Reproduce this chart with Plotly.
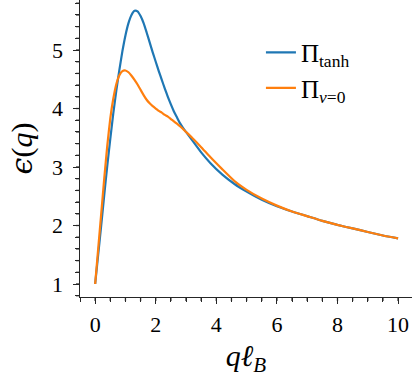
import plotly.graph_objects as go

# Data
q_tanh = [0.0, 0.1, 0.2, 0.3, 0.4, 0.5, 0.6, 0.7, 0.8, 0.9, 1.0, 1.1, 1.2, 1.3, 1.4,
          1.5, 1.6, 1.7, 1.8, 1.9, 2.0, 2.1, 2.2, 2.3, 2.4, 2.5, 2.6, 2.7, 2.8, 2.9, 3.0,
          3.2, 3.5, 3.8, 4.2, 4.6, 5.0, 5.5, 6.0, 6.5, 7.0, 7.5, 8.0, 8.5, 9.0, 9.5, 10.0]
eps_tanh = [1.00, 1.50, 2.00, 2.52, 3.02, 3.48, 3.92, 4.31, 4.66, 4.98, 5.25, 5.46, 5.60, 5.67, 5.66,
            5.58, 5.46, 5.30, 5.13, 4.96, 4.80, 4.64, 4.49, 4.34, 4.20, 4.07, 3.95, 3.85, 3.75, 3.67, 3.60,
            3.46, 3.25, 3.07, 2.87, 2.71, 2.58, 2.44, 2.33, 2.24, 2.16, 2.08, 2.01, 1.95, 1.89, 1.83, 1.78]

q_nu0 = [0.0, 0.1, 0.2, 0.3, 0.4, 0.5, 0.6, 0.7, 0.8, 0.9, 1.0, 1.1, 1.2, 1.3, 1.4,
         1.5, 1.6, 1.7, 1.8, 1.9, 2.0, 2.1, 2.2, 2.3, 2.4, 2.5, 2.6, 2.7, 2.8, 2.9, 3.0,
         3.2, 3.5, 3.8, 4.2, 4.6, 5.0, 5.5, 6.0, 6.5, 7.0, 7.5, 8.0, 8.5, 9.0, 9.5, 10.0]
eps_nu0 = [1.00, 1.60, 2.20, 2.80, 3.36, 3.83, 4.17, 4.42, 4.57, 4.64, 4.65, 4.62, 4.56, 4.49, 4.41,
           4.32, 4.23, 4.15, 4.09, 4.04, 4.00, 3.96, 3.93, 3.89, 3.86, 3.82, 3.78, 3.74, 3.70, 3.65, 3.60,
           3.50, 3.34, 3.17, 2.96, 2.76, 2.61, 2.46, 2.34, 2.24, 2.16, 2.08, 2.01, 1.95, 1.89, 1.83, 1.78]

x_range = [-0.5, 10.46]
y_range = [0.778, 5.855]
x_major, x_minor = 2, 0.5
y_major, y_minor = 1, 0.2

FONT = "Liberation Serif"
EPS_FONT = "DejaVu Serif"
INK = "#262626"

W, H = 412, 382
M = dict(l=80, r=0, t=0, b=85)
plot_w = W - M["l"] - M["r"]
plot_h = H - M["t"] - M["b"]
MINOR_LEN = 4  # px

fig = go.Figure()
fig.add_trace(go.Scatter(x=q_tanh, y=eps_tanh, mode="lines",
                         line=dict(color="#1f77b4", width=2.2, shape="spline", smoothing=0.5),
                         name="Π<sub>tanh</sub>"))
fig.add_trace(go.Scatter(x=q_nu0, y=eps_nu0, mode="lines",
                         line=dict(color="#ff7f0e", width=2.2, shape="spline", smoothing=0.5),
                         name="Π<sub><i>ν</i>=0</sub>"))

# minor tick marks along the axes (axis decoration)
shapes = []
n_x = int(round(10 / x_minor))
for i in range(n_x + 1):
    v = i * x_minor
    shapes.append(dict(type="line", xref="x", yref="paper", x0=v, x1=v, y0=0, y1=-MINOR_LEN / plot_h,
                       line=dict(color=INK, width=1.3), layer="above"))
k = 4
while k * y_minor <= y_range[1]:
    v = round(k * y_minor, 6)
    if v >= y_range[0]:
        shapes.append(dict(type="line", xref="paper", yref="y", x0=0, x1=-MINOR_LEN / plot_w, y0=v, y1=v,
                           line=dict(color=INK, width=1.3), layer="above"))
    k += 1

axis_common = dict(showline=True, linecolor=INK, linewidth=1.3, ticks="outside", ticklen=5.5, tickwidth=1.3,
                   tickcolor=INK, showgrid=False, zeroline=False, tickmode="linear", tick0=0)

fig.update_layout(
    width=W, height=H,
    margin=M,
    paper_bgcolor="white", plot_bgcolor="white",
    font=dict(family=FONT, color="black"),
    showlegend=True,
    shapes=shapes,
    legend=dict(x=0.545, y=0.9, xanchor="left", yanchor="top", bgcolor="rgba(0,0,0,0)",
                font=dict(family=FONT, size=25, color="black"), tracegroupgap=0),
    xaxis=dict(range=x_range, dtick=x_major, ticklabelstandoff=2,
               tickfont=dict(family=FONT, size=22, color="black"),
               minor=dict(ticks="outside", tickmode="linear", tick0=0, dtick=x_minor, ticklen=MINOR_LEN,
                          tickwidth=1.3, tickcolor=INK),
               title=dict(text="<i>qℓ</i><sub><i>B</i></sub>", font=dict(family=FONT, size=30, color="black"), standoff=8),
               **axis_common),
    yaxis=dict(range=y_range, dtick=y_major, ticklabelstandoff=6,
               tickfont=dict(family=FONT, size=22, color="black"),
               minor=dict(ticks="outside", tickmode="linear", tick0=0, dtick=y_minor, ticklen=MINOR_LEN,
                          tickwidth=1.3, tickcolor=INK),
               title=dict(text=f"<span style=\"font-family:{EPS_FONT}\"><i>ϵ</i></span>(<i>q</i>)",
                          font=dict(family=FONT, size=30, color="black"), standoff=10),
               **axis_common),
)

fig.write_html("out.html")
